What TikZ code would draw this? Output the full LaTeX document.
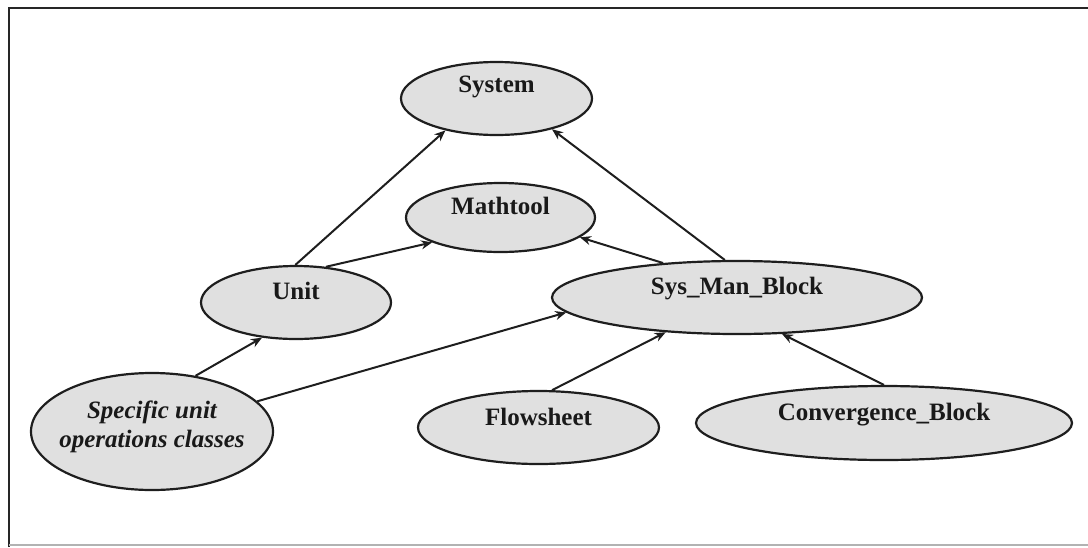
\documentclass[tikz,border=0pt]{standalone}
\usepackage{fontspec}
\setmainfont{Liberation Serif}
\usetikzlibrary{arrows.meta,shapes.geometric}
\definecolor{nodefill}{RGB}{224,224,224}
\definecolor{inkline}{RGB}{30,30,30}
\begin{document}
\begin{tikzpicture}[x=1pt,y=-1pt,
  cls/.style={ellipse,draw=inkline,line width=2.2pt,fill=nodefill,inner sep=0pt},
  lbl/.style={font=\bfseries\fontsize{25}{29}\selectfont,anchor=mid,inner sep=0pt,text=black!90},
  arr/.style={draw=inkline,line width=2pt,-{Stealth[length=11pt,width=9pt]}}]
\useasboundingbox (0,0) rectangle (1088,547);
% frame
\draw[line width=2pt,black!85] (9,547) -- (9,8) -- (1088,8);
\draw[line width=1.2pt,black!30] (9,545) -- (1088,545);

% classes
\node[cls,minimum width=191pt,minimum height=73pt] (sys) at (496.5,98.5) {};
\node[cls,minimum width=189pt,minimum height=69pt] (math) at (500.5,217.5) {};
\node[cls,minimum width=190pt,minimum height=73pt] (unit) at (296,302.5) {};
\node[cls,minimum width=370pt,minimum height=73pt] (smb) at (737,297.5) {};
\node[cls,minimum width=242pt,minimum height=117pt] (spec) at (152,431.5) {};
\node[cls,minimum width=241pt,minimum height=73pt] (flow) at (538.5,427.5) {};
\node[cls,minimum width=376pt,minimum height=74pt] (conv) at (884,423) {};

% names
\node[lbl] (sys-t) at (496.5,90) {System};
\node[lbl] (math-t) at (500.5,212) {Mathtool};
\node[lbl] (unit-t) at (296,297) {Unit};
\node[lbl] (smb-t) at (737,292) {Sys\_Man\_Block};
\node[lbl,anchor=center,align=center,font=\bfseries\itshape\fontsize{25}{29}\selectfont] (spec-t) at (152,427) {Specific unit\\operations classes};
\node[lbl] (flow-t) at (538.5,423) {Flowsheet};
\node[lbl] (conv-t) at (884,418) {Convergence\_Block};

% inheritance arrows
\draw[arr] (unit.91) -- (sys.212);
\draw[arr] (unit.50) -- (math.200);
\draw[arr] (smb.108) -- (sys.-29);
\draw[arr] (smb.155) -- (math.-14);
\draw[arr] (spec.52) -- (unit.-134);
\draw[arr] (spec.16) -- (smb.-175);
\draw[arr] (flow.70) -- (smb.-154);
\draw[arr] (conv.90) -- (smb.-39);
\end{tikzpicture}
\end{document}
